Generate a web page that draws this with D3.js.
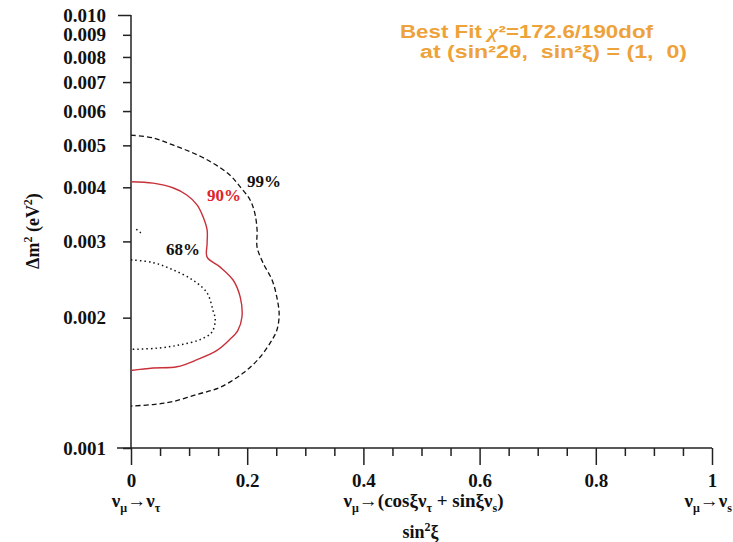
<!DOCTYPE html>
<html>
<head>
<meta charset="utf-8">
<script src="https://cdn.jsdelivr.net/npm/d3@7"></script>
<style>
  html, body { margin: 0; padding: 0; background: #fff; }
  svg { display: block; }
  text { white-space: pre; }
</style>
</head>
<body>
<svg id="chart" width="733" height="542"></svg>
<script>
// ---------- data ----------
const yTickValues = [0.001, 0.002, 0.003, 0.004, 0.005, 0.006, 0.007, 0.008, 0.009, 0.010];
const yTickLabels = ["0.001", "0.002", "0.003", "0.004", "0.005", "0.006", "0.007", "0.008", "0.009", "0.010"];
const xMajorTicks = [0, 0.2, 0.4, 0.6, 0.8, 1];
const xMajorLabels = ["0", "0.2", "0.4", "0.6", "0.8", "1"];
const xMinorTicks = [0.05, 0.1, 0.15, 0.25, 0.3, 0.35, 0.45, 0.5, 0.55, 0.65, 0.7, 0.75, 0.85, 0.9, 0.95];

// contour 99% C.L. : [sin^2 xi, dm^2]
const contour99 = [
  [0, 0.00528], [0.038, 0.00520], [0.072, 0.00501], [0.107, 0.00480], [0.141, 0.00455],
  [0.170, 0.00427], [0.188, 0.00401], [0.205, 0.00374], [0.213, 0.00349], [0.217, 0.00319],
  [0.217, 0.00291], [0.227, 0.00268], [0.243, 0.00244], [0.251, 0.00223], [0.255, 0.00203],
  [0.251, 0.00187], [0.243, 0.00178], [0.222, 0.00162], [0.193, 0.00149], [0.153, 0.00138],
  [0.114, 0.00133], [0.072, 0.00128], [0.038, 0.00126], [0, 0.00125]
];
// contour 90% C.L.
const contour90 = [
  [0, 0.00412], [0.038, 0.00409], [0.072, 0.00399], [0.096, 0.00384], [0.114, 0.00364],
  [0.124, 0.00342], [0.131, 0.00319], [0.131, 0.00297], [0.131, 0.00276], [0.153, 0.00262],
  [0.176, 0.00244], [0.188, 0.00223], [0.191, 0.00201], [0.184, 0.00187], [0.170, 0.00178],
  [0.148, 0.00168], [0.114, 0.00160], [0.079, 0.00154], [0.038, 0.00153], [0, 0.00151]
];
// contour 68% C.L.
const contour68 = [
  [0, 0.00272], [0.038, 0.00268], [0.072, 0.00258], [0.107, 0.00244], [0.131, 0.00228],
  [0.141, 0.00208], [0.145, 0.00198], [0.139, 0.00185], [0.119, 0.00178], [0.084, 0.00173],
  [0.045, 0.00170], [0, 0.00169]
];
const contour68Island = [[0.009, 0.00320], [0.017, 0.00314]];

const contourLabels = [
  { text: "99%", x: 0.229, y: 0.00414, color: "#111" },
  { text: "90%", x: 0.160, y: 0.00384, color: "#e0232b" },
  { text: "68%", x: 0.0895, y: 0.00288, color: "#111" }
];

// ---------- drawing ----------
const svg = d3.select("#chart");
const x = d3.scaleLinear().domain([0, 1]).range([131, 712]);
const y = d3.scaleLog().domain([0.001, 0.01]).range([448, 15]);

const serif = "'Liberation Serif', 'Times New Roman', serif";
const axisColor = "#222";

// axes lines
svg.append("line").attr("x1", x(0)).attr("x2", x(0)).attr("y1", y(0.01)).attr("y2", y(0.001))
  .attr("stroke", axisColor).attr("stroke-width", 1.5);
svg.append("line").attr("x1", x(0) - 14).attr("x2", x(1)).attr("y1", y(0.001)).attr("y2", y(0.001))
  .attr("stroke", axisColor).attr("stroke-width", 1.5);

// y axis
const yAxis = d3.axisLeft(y).tickValues(yTickValues)
  .tickFormat((d, i) => yTickLabels[i]).tickSize(8).tickPadding(17).tickSizeOuter(0);
const gy = svg.append("g").attr("transform", `translate(${x(0)},0)`).call(yAxis);
gy.select(".domain").remove();
gy.selectAll(".tick line").attr("stroke", axisColor).attr("stroke-width", 1.5)
  .attr("x2", d => (d === 0.01 ? -13 : -8));
gy.selectAll(".tick text").attr("font-family", serif).attr("font-weight", "bold")
  .attr("font-size", 19).attr("fill", "#111");

// x axis major
const xAxis = d3.axisBottom(x).tickValues(xMajorTicks)
  .tickFormat((d, i) => xMajorLabels[i]).tickSize(17).tickPadding(9).tickSizeOuter(0);
const gx = svg.append("g").attr("transform", `translate(0,${y(0.001)})`).call(xAxis);
gx.select(".domain").remove();
gx.selectAll(".tick line").attr("stroke", axisColor).attr("stroke-width", 1.5);
gx.selectAll(".tick text").attr("font-family", serif).attr("font-weight", "bold")
  .attr("font-size", 19).attr("fill", "#111");

// x axis minor
const xAxisMinor = d3.axisBottom(x).tickValues(xMinorTicks).tickFormat("").tickSize(8).tickSizeOuter(0);
const gxm = svg.append("g").attr("transform", `translate(0,${y(0.001)})`).call(xAxisMinor);
gxm.select(".domain").remove();
gxm.selectAll(".tick line").attr("stroke", axisColor).attr("stroke-width", 1.5);

// contours
const line = d3.line().x(d => x(d[0])).y(d => y(d[1])).curve(d3.curveCatmullRom.alpha(0.5));
svg.append("path").datum(contour99).attr("d", line).attr("fill", "none")
  .attr("stroke", "#111").attr("stroke-width", 1.3).attr("stroke-dasharray", "5,3");
svg.append("path").datum(contour90).attr("d", line).attr("fill", "none")
  .attr("stroke", "#c8303a").attr("stroke-width", 1.4);
svg.append("path").datum(contour68).attr("d", line).attr("fill", "none")
  .attr("stroke", "#111").attr("stroke-width", 1.5).attr("stroke-dasharray", "1.5,3");
svg.append("path").datum(contour68Island).attr("d", line).attr("fill", "none")
  .attr("stroke", "#111").attr("stroke-width", 1.5).attr("stroke-dasharray", "1.5,3");

// contour labels
svg.selectAll("text.cl").data(contourLabels).enter().append("text").attr("class", "cl")
  .attr("x", d => x(d.x)).attr("y", d => y(d.y)).attr("dy", "0.35em")
  .attr("text-anchor", "middle").attr("font-family", serif).attr("font-weight", "bold")
  .attr("font-size", 17).attr("fill", d => d.color).text(d => d.text);

// helper for sub/superscripted labels
function nuLabel(g, parts) {
  let shift = 0;
  parts.forEach(([t, type]) => {
    const target = type === "s" ? 5 : type === "p" ? -7 : 0;
    const ts = g.append("tspan").attr("dy", target - shift).text(t);
    if (type !== "n") ts.attr("font-size", 12);
    shift = target;
  });
  return g;
}

// x bottom labels
const bottomY = 507;
nuLabel(svg.append("text").attr("x", x(0) + 5).attr("y", bottomY).attr("text-anchor", "middle")
  .attr("font-family", serif).attr("font-weight", "bold").attr("font-size", 19).attr("fill", "#111"),
  [["ν", "n"], ["μ", "s"], ["→ν", "n"], ["τ", "s"]]);
nuLabel(svg.append("text").attr("x", x(0.5) + 2).attr("y", bottomY).attr("text-anchor", "middle")
  .attr("font-family", serif).attr("font-weight", "bold").attr("font-size", 19).attr("fill", "#111"),
  [["ν", "n"], ["μ", "s"], ["→(cosξν", "n"], ["τ", "s"], [" + sinξν", "n"], ["s", "s"], [")", "n"]]);
nuLabel(svg.append("text").attr("x", x(1) + 20).attr("y", bottomY).attr("text-anchor", "end")
  .attr("font-family", serif).attr("font-weight", "bold").attr("font-size", 19).attr("fill", "#111"),
  [["ν", "n"], ["μ", "s"], ["→ν", "n"], ["s", "s"]]);
nuLabel(svg.append("text").attr("x", x(0.5) - 1).attr("y", 538).attr("text-anchor", "middle")
  .attr("font-family", serif).attr("font-weight", "bold").attr("font-size", 18).attr("fill", "#111"),
  [["sin", "n"], ["2", "p"], ["ξ", "n"]]);

// y axis title
nuLabel(svg.append("text").attr("transform", "translate(39,231) rotate(-90)").attr("text-anchor", "middle")
  .attr("font-family", serif).attr("font-weight", "bold").attr("font-size", 18).attr("fill", "#111"),
  [["Δm", "n"], ["2", "p"], [" (eV", "n"], ["2", "p"], [")", "n"]]);

// best fit annotation
const orange = "#eea23a";
const sans = "'Liberation Sans', Arial, sans-serif";
const t1 = svg.append("text").attr("x", 400).attr("y", 38).attr("font-family", sans)
  .attr("font-size", 18).attr("font-weight", "bold").attr("fill", orange)
  .attr("textLength", 253).attr("lengthAdjust", "spacingAndGlyphs");
t1.append("tspan").text("Best Fit ");
t1.append("tspan").attr("font-family", serif).attr("font-style", "italic").text("χ");
t1.append("tspan").text("²=172.6/190dof");
const t2 = svg.append("text").attr("x", 420).attr("y", 58).attr("font-family", sans)
  .attr("font-size", 18).attr("font-weight", "bold").attr("fill", orange)
  .attr("textLength", 267).attr("lengthAdjust", "spacingAndGlyphs");
t2.append("tspan").text("at (sin²2θ,  sin²ξ) = (1,  0)");
</script>
</body>
</html>
